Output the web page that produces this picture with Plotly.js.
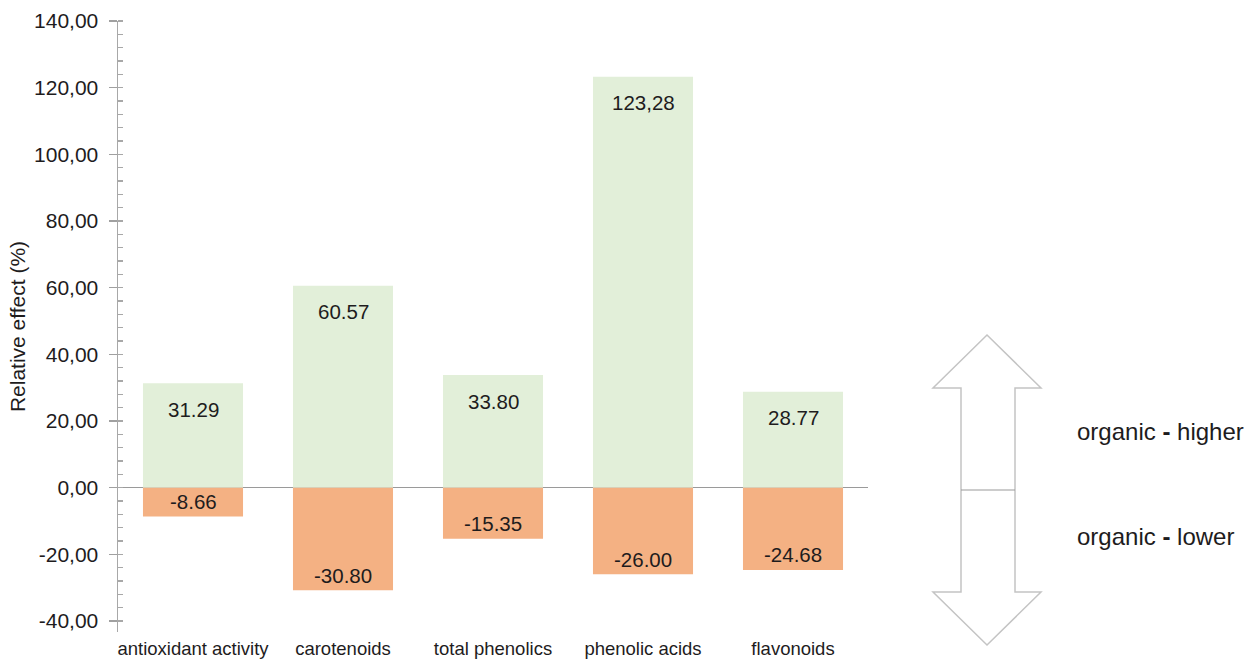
<!DOCTYPE html>
<html>
<head>
<meta charset="utf-8">
<script src="https://cdn.plot.ly/plotly-3.0.1.min.js"></script>
<style>html,body{margin:0;padding:0;background:#fff;}#chart{width:1247px;height:660px;}</style>
</head>
<body>
<div id="chart"></div>
<script>
const categories = ["antioxidant activity", "carotenoids", "total phenolics", "phenolic acids", "flavonoids"];
const higherValues = [31.29, 60.57, 33.80, 123.28, 28.77];
const lowerValues = [-8.66, -30.80, -15.35, -26.00, -24.68];
const higherLabels = ["31.29", "60.57", "33.80", "123,28", "28.77"];
const lowerLabels = ["-8.66", "-30.80", "-15.35", "-26.00", "-24.68"];
const yTickVals = [-40, -20, 0, 20, 40, 60, 80, 100, 120, 140];
const yTickText = ["-40,00", "-20,00", "0,00", "20,00", "40,00", "60,00", "80,00", "100,00", "120,00", "140,00"];

const W = 1247, H = 660;
const M = {l: 118, r: 379, t: 21, b: 28};
const PW = W - M.l - M.r, PH = H - M.t - M.b;
const px = x => (x - M.l) / PW;
const py = y => (H - M.b - y) / PH;
function pathFrom(points, close) {
  return points.map((p, i) => (i ? 'L ' : 'M ') + px(p[0]).toFixed(5) + ' ' + py(p[1]).toFixed(5)).join(' ') + (close ? ' Z' : '');
}

const font = 'Liberation Sans, Arial, sans-serif';
const textColor = '#1e1c1d';

const traces = [
  {type: 'bar', x: categories, y: higherValues, marker: {color: '#e2efd9'}, hoverinfo: 'skip', showlegend: false},
  {type: 'bar', x: categories, y: lowerValues, marker: {color: '#f4b183'}, hoverinfo: 'skip', showlegend: false}
];

const annotations = [];
categories.forEach((c, i) => {
  annotations.push({x: c, y: higherValues[i], xref: 'x', yref: 'y', text: higherLabels[i], showarrow: false,
    yanchor: 'middle', yshift: -26, font: {family: font, size: 20.5, color: textColor}});
  annotations.push({x: c, y: lowerValues[i], xref: 'x', yref: 'y', text: lowerLabels[i], showarrow: false,
    yanchor: 'middle', yshift: 15, font: {family: font, size: 20.5, color: textColor}});
});
annotations.push({xref: 'paper', yref: 'paper', x: px(1075), y: py(431), xanchor: 'left', yanchor: 'middle',
  text: 'organic <b>-</b> higher', showarrow: false, font: {family: font, size: 24, color: textColor}});
annotations.push({xref: 'paper', yref: 'paper', x: px(1075), y: py(536), xanchor: 'left', yanchor: 'middle',
  text: 'organic <b>-</b> lower', showarrow: false, font: {family: font, size: 24, color: textColor}});

const arrow = [[987,335],[1041,388],[1015,388],[1015,592],[1041,592],[987,645],[933,592],[961,592],[961,388],[933,388]];
const shapes = [
  {type: 'path', xref: 'paper', yref: 'paper', path: pathFrom(arrow, true), line: {color: '#c4c4c4', width: 1.5}, fillcolor: 'rgba(0,0,0,0)'},
  {type: 'path', xref: 'paper', yref: 'paper', path: pathFrom([[961,490],[1015,490]], false), line: {color: '#9a9a9a', width: 1.2}}
];

const layout = {
  width: W, height: H,
  margin: M,
  paper_bgcolor: '#fff', plot_bgcolor: '#fff',
  barmode: 'relative',
  bargap: 0.333,
  font: {family: font, color: textColor},
  xaxis: {
    showline: false, showgrid: false, zeroline: false, ticks: '',
    tickfont: {family: font, size: 18.5, color: textColor},
    ticklabelstandoff: 3, fixedrange: true
  },
  yaxis: {
    range: [-43.3, 140],
    tickvals: yTickVals, ticktext: yTickText,
    tickfont: {family: font, size: 21, color: textColor},
    showgrid: false,
    showline: true, linecolor: '#a8a8a8', linewidth: 1.5,
    ticks: 'outside', ticklen: 8, tickcolor: '#a0a0a0', tickwidth: 1.5,
    minor: {dtick: 4, ticks: 'inside', ticklen: 5, tickcolor: '#a8a8a8', tickwidth: 1.2, showgrid: false},
    zeroline: true, zerolinecolor: '#9a9a9a', zerolinewidth: 1.5,
    ticklabelstandoff: 6,
    title: {text: 'Relative effect (%)', font: {family: font, size: 21, color: textColor}, standoff: 2},
    fixedrange: true
  },
  annotations: annotations,
  shapes: shapes
};

Plotly.newPlot('chart', traces, layout, {displayModeBar: false, staticPlot: true});
</script>
</body>
</html>
